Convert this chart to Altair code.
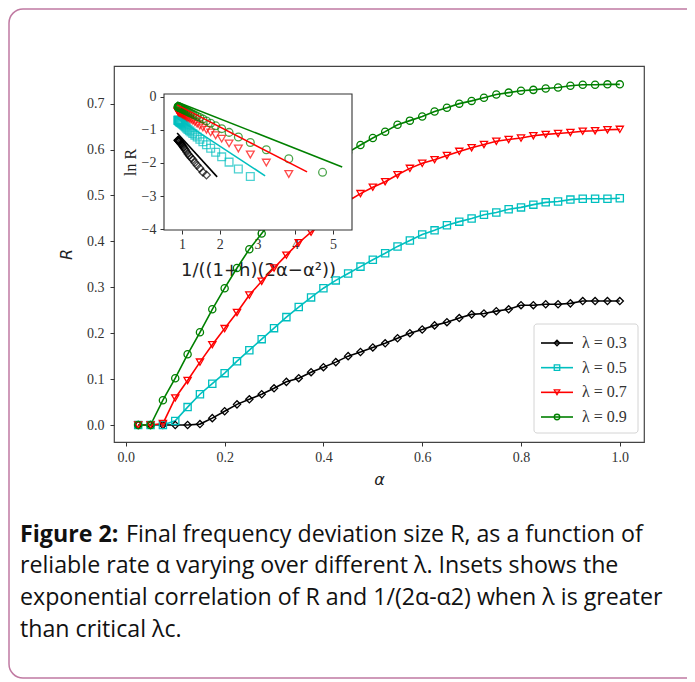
import altair as alt
import pandas as pd

# ---------------- data ----------------
ALPHA = [0.025, 0.05, 0.075, 0.1, 0.125, 0.15, 0.175, 0.2, 0.225, 0.25,
         0.275, 0.3, 0.325, 0.35, 0.375, 0.4, 0.425, 0.45, 0.475, 0.5,
         0.525, 0.55, 0.575, 0.6, 0.625, 0.65, 0.675, 0.7, 0.725, 0.75,
         0.775, 0.8, 0.825, 0.85, 0.875, 0.9, 0.925, 0.95, 0.975, 1.0]

LAMBDA_LABELS = ["λ = 0.3", "λ = 0.5", "λ = 0.7", "λ = 0.9"]
COLORS = ["#000000", "#00bfbf", "#ff0000", "#008000"]
SHAPES = ["diamond", "square", "triangle-down", "circle"]

R_03 = [0, 0, 0, 0, 0, 0.002, 0.015, 0.030, 0.045, 0.056,
        0.067, 0.080, 0.094, 0.102, 0.115, 0.126, 0.137, 0.150, 0.159, 0.169,
        0.178, 0.189, 0.200, 0.208, 0.217, 0.224, 0.233, 0.241, 0.243, 0.248,
        0.252, 0.261, 0.261, 0.263, 0.263, 0.265, 0.270, 0.270, 0.270, 0.270]
R_05 = [0, 0, 0, 0.009, 0.039, 0.067, 0.090, 0.113, 0.139, 0.163,
        0.187, 0.211, 0.235, 0.257, 0.278, 0.298, 0.315, 0.330, 0.345, 0.360,
        0.374, 0.389, 0.402, 0.415, 0.424, 0.435, 0.443, 0.450, 0.458, 0.463,
        0.470, 0.474, 0.480, 0.485, 0.487, 0.491, 0.493, 0.493, 0.493, 0.494]
R_07 = [0, 0, 0.003, 0.059, 0.097, 0.137, 0.175, 0.210, 0.245, 0.283,
        0.313, 0.342, 0.370, 0.397, 0.420, 0.445, 0.468, 0.488, 0.504, 0.518,
        0.530, 0.545, 0.559, 0.570, 0.578, 0.587, 0.596, 0.604, 0.611, 0.618,
        0.622, 0.625, 0.630, 0.633, 0.635, 0.637, 0.640, 0.641, 0.643, 0.644]
R_09 = [0, 0, 0.054, 0.102, 0.154, 0.202, 0.252, 0.298, 0.342, 0.383,
        0.417, 0.452, 0.484, 0.512, 0.537, 0.558, 0.577, 0.594, 0.610, 0.625,
        0.639, 0.654, 0.663, 0.672, 0.683, 0.691, 0.700, 0.706, 0.713, 0.720,
        0.724, 0.728, 0.730, 0.733, 0.735, 0.739, 0.741, 0.741, 0.742, 0.742]

# inset fitted straight lines (start / end) for λ = 0.3, 0.5, 0.7, 0.9
FIT_X_START = [0.87, 0.87, 0.87, 0.87]
FIT_X_END = [1.93, 3.20, 4.31, 5.24]
FIT_Y_START = [-1.09, -0.64, -0.24, -0.15]
FIT_Y_END = [-2.42, -2.39, -2.27, -2.12]
ONE_PLUS_H = 1.115

MAIN_X_TICKS = [0.0, 0.2, 0.4, 0.6, 0.8, 1.0]
MAIN_Y_TICKS = [0.0, 0.1, 0.2, 0.3, 0.4, 0.5, 0.6, 0.7]
INSET_X_TICKS = [1, 2, 3, 4, 5]
INSET_Y_TICKS = [0, -1, -2, -3, -4]

CAPTION_BOLD = "Figure 2:"
CAPTION_LINES = [
    "Final frequency deviation size R, as a function of",
    "reliable rate α varying over different λ. Insets shows the",
    "exponential correlation of R and 1/(2α-α2) when λ is greater",
    "than critical λc.",
]

# ---------------- tables ----------------
rows = []
for lab, series in zip(LAMBDA_LABELS, [R_03, R_05, R_07, R_09]):
    for a, r in zip(ALPHA, series):
        rows.append({"alpha": a, "R": r, "lam": lab})
df = pd.DataFrame(rows)

fit_rows = []
for lab, x0, x1, y0, y1 in zip(LAMBDA_LABELS, FIT_X_START, FIT_X_END, FIT_Y_START, FIT_Y_END):
    fit_rows.append({"ix": x0, "lnR": y0, "lam": lab})
    fit_rows.append({"ix": x1, "lnR": y1, "lam": lab})
df_fit = pd.DataFrame(fit_rows)

df_leg = pd.DataFrame({"lam": LAMBDA_LABELS})
one = pd.DataFrame({"k": [0]})

W, H = 530, 376
SERIF = "Liberation Serif"

color = alt.Color("lam:N", scale=alt.Scale(domain=LAMBDA_LABELS, range=COLORS), legend=None)
shape = alt.Shape("lam:N", scale=alt.Scale(domain=LAMBDA_LABELS, range=SHAPES), legend=None)

# ---------------- decorations: frame ----------------
border = alt.Chart(one).mark_rect(
    filled=False, stroke="#c07aa2", strokeWidth=1.5, cornerRadius=14
).encode(x=alt.value(-105), x2=alt.value(W + 120), y=alt.value(-57), y2=alt.value(H + 236))

# ---------------- main plot ----------------
mx = alt.X("alpha:Q",
           scale=alt.Scale(domain=[-0.024, 1.049], nice=False, zero=False),
           axis=alt.Axis(orient="bottom", values=MAIN_X_TICKS, format=".1f", title="α",
                         grid=False, domain=False, tickSize=4, tickColor="#333",
                         labelFont=SERIF, labelFontSize=14, labelColor="#333", labelPadding=4,
                         titleFont="DejaVu Sans", titleFontSize=16, titleFontWeight="normal",
                         titleFontStyle="italic", titleColor="#222", titlePadding=7))
my = alt.Y("R:Q",
           scale=alt.Scale(domain=[-0.037, 0.782], nice=False, zero=False),
           axis=alt.Axis(orient="left", values=MAIN_Y_TICKS, format=".1f", title="R",
                         grid=False, domain=False, tickSize=4, tickColor="#333",
                         labelFont=SERIF, labelFontSize=14, labelColor="#333", labelPadding=6,
                         titleFont="DejaVu Sans", titleFontSize=16, titleFontWeight="normal",
                         titleFontStyle="italic", titleColor="#222", titlePadding=12))

main_base = alt.Chart(df).encode(x=mx, y=my, color=color)
main = alt.layer(
    main_base.mark_line(strokeWidth=1.6),
    main_base.mark_point(size=52, strokeWidth=1.3, opacity=1).encode(shape=shape),
)

# ---------------- inset ----------------
IX0, IX1, IY0, IY1 = 50, 238, 28, 164
ix = alt.X("ix:Q",
           scale=alt.Scale(domain=[0.523, 5.5], range=[IX0, IX1], nice=False, zero=False),
           axis=alt.Axis(orient="bottom", offset=-(H - IY1), values=INSET_X_TICKS, format="d",
                         title="1/((1+h)(2α−α²))", grid=False, domain=False, tickSize=4,
                         tickColor="#333", labelFont=SERIF, labelFontSize=14, labelColor="#333",
                         labelPadding=3, titleFont="DejaVu Sans", titleFontSize=18,
                         titleFontWeight="normal", titleColor="#222", titlePadding=10))
iy = alt.Y("lnR:Q",
           scale=alt.Scale(domain=[-4.03, 0.09], range=[IY1, IY0], nice=False, zero=False),
           axis=alt.Axis(orient="left", offset=-IX0, values=INSET_Y_TICKS, format="d",
                         labelExpr="replace(datum.label, '-', '\u2212')",
                         title="ln R", grid=False, domain=False, tickSize=4, tickColor="#333",
                         labelFont=SERIF, labelFontSize=14, labelColor="#333", labelPadding=4,
                         titleFont=SERIF, titleFontSize=16, titleFontWeight="normal",
                         titleColor="#222", titlePadding=3))

inset_bg = alt.Chart(one).mark_rect(fill="white", stroke="#333", strokeWidth=1.1).encode(
    x=alt.value(IX0), x2=alt.value(IX1), y=alt.value(IY0), y2=alt.value(IY1))

inset_pts = alt.Chart(df).transform_filter(
    "datum.R > 0.085"
).transform_calculate(
    ix=f"1 / ({ONE_PLUS_H} * (2 * datum.alpha - datum.alpha * datum.alpha))",
    lnR="log(datum.R)",
).transform_filter(
    "datum.ix <= 5.5"
).mark_point(size=60, strokeWidth=1.3).encode(x=ix, y=iy, color=color, shape=shape)

inset_fit = alt.Chart(df_fit).mark_line(strokeWidth=1.6).encode(x=ix, y=iy, color=color, detail="lam:N")

inset = alt.layer(inset_bg, inset_pts, inset_fit)

# ---------------- legend ----------------
ly = alt.Y("lam:N", scale=alt.Scale(type="point", domain=LAMBDA_LABELS, range=[277, 351], padding=0),
           axis=None)
leg_box = alt.Chart(one).mark_rect(fill="white", stroke="#d4d4d4", strokeWidth=1, cornerRadius=3).encode(
    x=alt.value(420), x2=alt.value(524), y=alt.value(258), y2=alt.value(367))
leg_rule = alt.Chart(df_leg).mark_rule(strokeWidth=1.6).encode(
    x=alt.value(427), x2=alt.value(459), y=ly, color=color)
leg_pt = alt.Chart(df_leg).mark_point(size=30, strokeWidth=1.3, opacity=1).encode(
    x=alt.value(443), y=ly, color=color, shape=shape)
leg_txt = alt.Chart(df_leg).mark_text(align="left", baseline="middle", font=SERIF,
                                      fontSize=16, color="#333").encode(
    x=alt.value(468), y=ly, text="lam:N")
legend = alt.layer(leg_box, leg_rule, leg_pt, leg_txt)

# ---------------- caption ----------------
CAP_FONT = "Open Sans"
CAP_SIZE = 23.2
cap_y = [469, 500, 532, 564]
caption = [alt.Chart(one).mark_text(text=CAPTION_BOLD, align="left", baseline="middle", font=CAP_FONT,
                                    fontSize=CAP_SIZE, fontWeight="bold", color="#111").encode(
    x=alt.value(-94), y=alt.value(cap_y[0]))]
cap_x = [12, -94, -94, -94]
for t, xx, yy in zip(CAPTION_LINES, cap_x, cap_y):
    caption.append(alt.Chart(one).mark_text(text=t, align="left", baseline="middle", font=CAP_FONT,
                                            fontSize=CAP_SIZE, color="#111").encode(
        x=alt.value(xx), y=alt.value(yy)))

chart = alt.layer(
    border, main, inset, legend, *caption
).resolve_scale(
    x="independent", y="independent"
).properties(
    width=W, height=H,
    padding={"left": 106, "top": 58, "right": 43, "bottom": 238},
    autosize=alt.AutoSizeParams(type="none"),
).configure_view(stroke="#444", strokeWidth=1.2)

chart.save("out.html", embed_options={"renderer": "svg", "actions": False})
